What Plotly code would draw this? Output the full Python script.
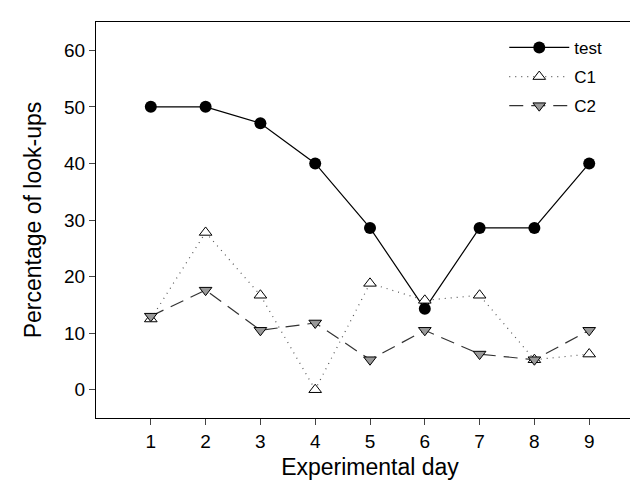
import plotly.graph_objects as go

days = [1, 2, 3, 4, 5, 6, 7, 8, 9]
test = [50, 50, 47.1, 40, 28.6, 14.3, 28.6, 28.6, 40]
c1 = [12.5, 27.8, 16.7, 0, 18.8, 15.8, 16.7, 5.3, 6.3]
c2 = [13.0, 17.6, 10.5, 11.8, 5.3, 10.5, 6.3, 5.3, 10.5]
yticks = [0, 10, 20, 30, 40, 50, 60]

fig = go.Figure()
fig.add_trace(go.Scatter(
    x=days, y=test, name="test", mode="lines+markers", legendgroup="a",
    line=dict(color="black", width=1.2),
    marker=dict(symbol="circle", size=12, color="black"),
))
fig.add_trace(go.Scatter(
    x=days, y=c1, name="C1", mode="lines+markers", legendgroup="b",
    line=dict(color="#555555", width=1.2, dash="1px,5px"),
    marker=dict(symbol="triangle-up", size=11, color="white",
                line=dict(color="black", width=1)),
))
fig.add_trace(go.Scatter(
    x=days, y=c2, name="C2", mode="lines+markers", legendgroup="c",
    line=dict(color="#333333", width=1.2, dash="14px,8px"),
    marker=dict(symbol="triangle-down", size=11, color="#999999",
                line=dict(color="black", width=1)),
))

fig.update_layout(
    width=638, height=480,
    margin=dict(l=88, r=2, t=14, b=70, autoexpand=False),
    paper_bgcolor="white", plot_bgcolor="white",
    font=dict(family="Liberation Sans, Arial, sans-serif", color="black", size=19),
    showlegend=True,
    legend=dict(x=0.745, y=0.98, xanchor="left", yanchor="top",
                font=dict(size=17), bgcolor="rgba(0,0,0,0)",
                traceorder="grouped", tracegroupgap=4, itemwidth=60),
    xaxis=dict(range=[0, 10], tickvals=days, ticks="outside", ticklen=6,
               showline=True, linecolor="black", linewidth=1, mirror=True,
               showgrid=False, zeroline=False, automargin=False,
               title=dict(text="Experimental day", font=dict(size=23), standoff=8)),
    yaxis=dict(range=[-5, 65], tickvals=yticks, ticks="outside", ticklen=6,
               showline=True, linecolor="black", linewidth=1, mirror=True,
               showgrid=False, zeroline=False, automargin=False,
               title=dict(text="Percentage of look-ups", font=dict(size=23), standoff=16)),
)

fig.write_html("out.html")
